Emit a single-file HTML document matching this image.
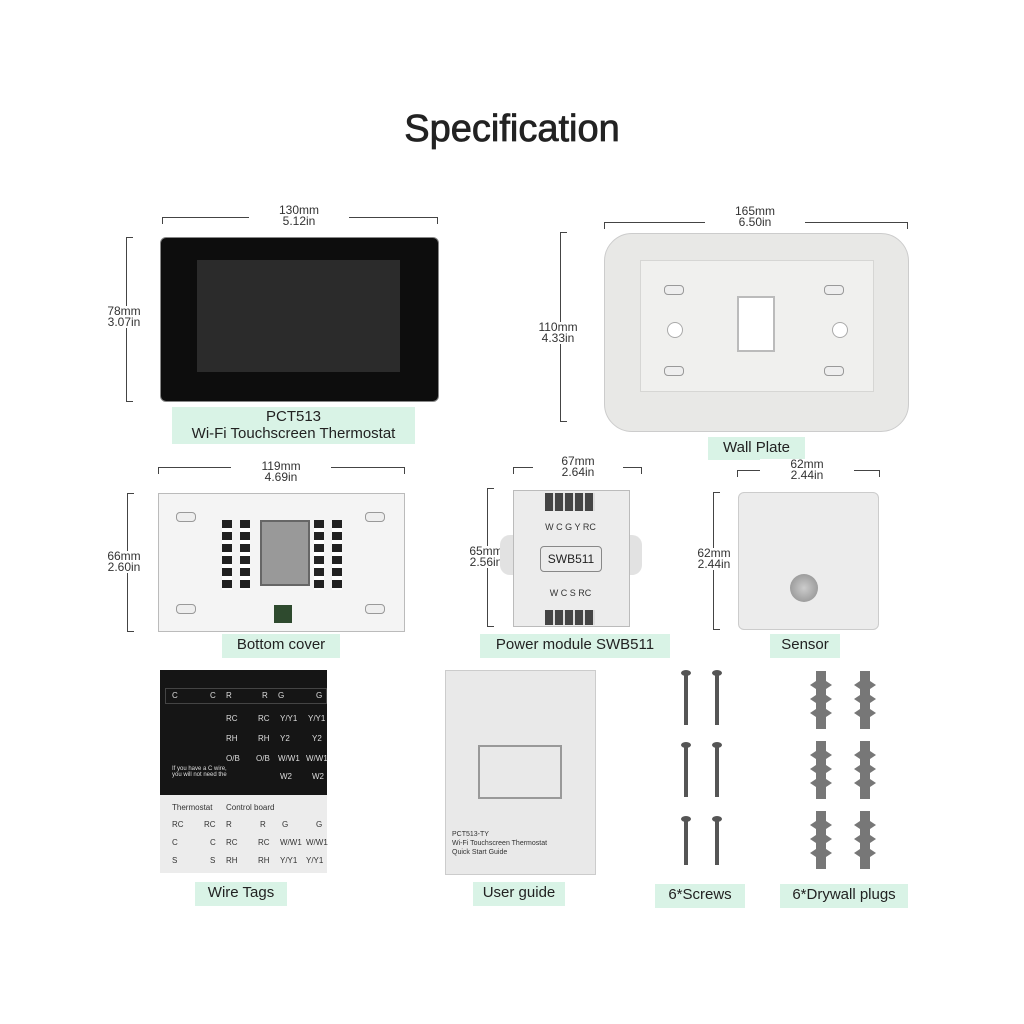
<!DOCTYPE html>
<html><head><meta charset="utf-8"><style>
body{margin:0;width:1024px;height:1024px;background:#fff;position:relative;overflow:hidden;font-family:"Liberation Sans",sans-serif;color:#222}
.a{position:absolute}
.t{position:absolute;font-size:12px;line-height:11px;text-align:center;color:#333}
.lab{position:absolute;background:#d9f3e6;font-size:15px;text-align:center;color:#222;line-height:22px}
.h{position:absolute;border-top:1px solid #444;height:6px;border-left:1px solid #444;border-right:1px solid #444}
.v{position:absolute;border-left:1px solid #444;width:6px;border-top:1px solid #444;border-bottom:1px solid #444}
.sl{position:absolute;width:18px;height:8px;border:1px solid #999;border-radius:4px;background:#eee}
.wt{position:absolute;font-size:8px;color:#ddd}
.wd{position:absolute;font-size:8px;color:#333}
</style></head><body>
<div class="a" style="left:0;top:108px;width:1024px;text-align:center;font-size:38px;color:#222;-webkit-text-stroke:0.8px #222">Specification</div>

<!-- thermostat -->
<div class="h" style="left:162px;top:217px;width:274px"></div>
<div class="t" style="left:249px;top:205px;width:100px;background:#fff">130mm<br>5.12in</div>
<div class="v" style="left:126px;top:237px;height:163px"></div>
<div class="t" style="left:100px;top:306px;width:48px;background:#fff">78mm<br>3.07in</div>
<div class="a" style="left:160px;top:237px;width:277px;height:163px;background:#0d0d0d;border-radius:6px;border:1px solid #888"></div>
<div class="a" style="left:197px;top:260px;width:203px;height:112px;background:#2b2b2b"></div>
<div class="lab" style="left:172px;top:407px;width:243px;height:36px;line-height:17px;padding-top:1px">PCT513<br>Wi-Fi Touchscreen Thermostat</div>

<!-- wall plate -->
<div class="h" style="left:604px;top:222px;width:302px"></div>
<div class="t" style="left:705px;top:206px;width:100px;background:#fff">165mm<br>6.50in</div>
<div class="v" style="left:560px;top:232px;height:188px"></div>
<div class="t" style="left:532px;top:322px;width:52px;background:#fff">110mm<br>4.33in</div>
<div class="a" style="left:604px;top:233px;width:303px;height:197px;background:#e8e8e6;border-radius:28px;border:1px solid #ccc"></div>
<div class="a" style="left:640px;top:260px;width:232px;height:130px;background:#f0f0ee;border:1px solid #d6d6d4"></div>
<div class="a" style="left:737px;top:296px;width:34px;height:52px;background:#fff;border:2px solid #bbb"></div>
<div class="a" style="left:667px;top:322px;width:14px;height:14px;border-radius:50%;background:#fff;border:1px solid #aaa"></div>
<div class="a" style="left:832px;top:322px;width:14px;height:14px;border-radius:50%;background:#fff;border:1px solid #aaa"></div>
<div class="sl" style="left:664px;top:285px"></div><div class="sl" style="left:824px;top:285px"></div>
<div class="sl" style="left:664px;top:366px"></div><div class="sl" style="left:824px;top:366px"></div>
<div class="lab" style="left:708px;top:437px;width:97px;height:23px">Wall Plate</div>

<!-- bottom cover -->
<div class="h" style="left:158px;top:467px;width:245px"></div>
<div class="t" style="left:231px;top:461px;width:100px;background:#fff">119mm<br>4.69in</div>
<div class="v" style="left:127px;top:493px;height:137px"></div>
<div class="t" style="left:100px;top:551px;width:48px;background:#fff">66mm<br>2.60in</div>
<div class="a" style="left:158px;top:493px;width:245px;height:137px;background:#f4f4f4;border:1px solid #bbb"></div>
<div class="a" style="left:260px;top:520px;width:46px;height:62px;background:#999;border:2px solid #666"></div>
<div class="a" style="left:222px;top:520px;width:10px;height:70px;background:repeating-linear-gradient(#222 0 8px,#fff 8px 12px)"></div>
<div class="a" style="left:240px;top:520px;width:10px;height:70px;background:repeating-linear-gradient(#222 0 8px,#fff 8px 12px)"></div>
<div class="a" style="left:314px;top:520px;width:10px;height:70px;background:repeating-linear-gradient(#222 0 8px,#fff 8px 12px)"></div>
<div class="a" style="left:332px;top:520px;width:10px;height:70px;background:repeating-linear-gradient(#222 0 8px,#fff 8px 12px)"></div>
<div class="a" style="left:274px;top:605px;width:18px;height:18px;background:#2e4a2e"></div>
<div class="sl" style="left:176px;top:512px"></div><div class="sl" style="left:365px;top:512px"></div>
<div class="sl" style="left:176px;top:604px"></div><div class="sl" style="left:365px;top:604px"></div>
<div class="lab" style="left:222px;top:634px;width:118px;height:24px">Bottom cover</div>

<!-- power module -->
<div class="h" style="left:513px;top:467px;width:127px"></div>
<div class="t" style="left:533px;top:456px;width:90px;background:#fff">67mm<br>2.64in</div>
<div class="v" style="left:487px;top:488px;height:137px"></div>
<div class="t" style="left:462px;top:546px;width:48px;background:#fff">65mm<br>2.56in</div>
<div class="a" style="left:500px;top:535px;width:142px;height:40px;background:#e2e2e2;border-radius:10px"></div>
<div class="a" style="left:513px;top:490px;width:115px;height:135px;background:#ececec;border:1px solid #bbb"></div>
<div class="a" style="left:545px;top:493px;width:50px;height:18px;background:repeating-linear-gradient(90deg,#444 0 8px,#ddd 8px 10px)"></div>
<div class="a" style="left:545px;top:610px;width:50px;height:15px;background:repeating-linear-gradient(90deg,#444 0 8px,#ddd 8px 10px)"></div>
<div class="t" style="left:513px;top:522px;width:115px;font-size:9px">W C G Y RC</div>
<div class="a" style="left:540px;top:546px;width:60px;height:24px;border:1px solid #888;border-radius:4px;font-size:12px;text-align:center;line-height:24px">SWB511</div>
<div class="t" style="left:513px;top:588px;width:115px;font-size:9px">W C S RC</div>
<div class="lab" style="left:480px;top:634px;width:190px;height:24px">Power module SWB511</div>

<!-- sensor -->
<div class="h" style="left:737px;top:470px;width:141px"></div>
<div class="t" style="left:760px;top:459px;width:94px;background:#fff">62mm<br>2.44in</div>
<div class="v" style="left:713px;top:492px;height:136px"></div>
<div class="t" style="left:690px;top:548px;width:48px;background:#fff">62mm<br>2.44in</div>
<div class="a" style="left:738px;top:492px;width:139px;height:136px;background:#ececec;border-radius:6px;border:1px solid #ccc"></div>
<div class="a" style="left:790px;top:574px;width:28px;height:28px;border-radius:50%;background:radial-gradient(#ccc,#8a8a8a)"></div>
<div class="lab" style="left:770px;top:634px;width:70px;height:24px">Sensor</div>

<!-- wire tags -->
<div class="a" style="left:160px;top:670px;width:167px;height:125px;background:#151515"></div>
<div class="a" style="left:160px;top:795px;width:167px;height:78px;background:#ececec"></div>
<div class="a" style="left:165px;top:688px;width:160px;height:14px;border:1px solid #444"></div>
<div class="wt" style="left:172px;top:691px">C</div><div class="wt" style="left:210px;top:691px">C</div><div class="wt" style="left:226px;top:691px">R</div><div class="wt" style="left:262px;top:691px">R</div><div class="wt" style="left:278px;top:691px">G</div><div class="wt" style="left:316px;top:691px">G</div>
<div class="wt" style="left:226px;top:714px">RC</div><div class="wt" style="left:258px;top:714px">RC</div><div class="wt" style="left:280px;top:714px">Y/Y1</div><div class="wt" style="left:308px;top:714px">Y/Y1</div>
<div class="wt" style="left:226px;top:734px">RH</div><div class="wt" style="left:258px;top:734px">RH</div><div class="wt" style="left:280px;top:734px">Y2</div><div class="wt" style="left:312px;top:734px">Y2</div>
<div class="wt" style="left:226px;top:754px">O/B</div><div class="wt" style="left:256px;top:754px">O/B</div><div class="wt" style="left:278px;top:754px">W/W1</div><div class="wt" style="left:306px;top:754px">W/W1</div>
<div class="wt" style="left:280px;top:772px">W2</div><div class="wt" style="left:312px;top:772px">W2</div>
<div class="wt" style="left:172px;top:766px;font-size:6px">If you have a C wire,<br>you will not need the</div>
<div class="wd" style="left:172px;top:803px">Thermostat</div><div class="wd" style="left:226px;top:803px">Control board</div>
<div class="wd" style="left:172px;top:820px">RC</div><div class="wd" style="left:204px;top:820px">RC</div><div class="wd" style="left:226px;top:820px">R</div><div class="wd" style="left:260px;top:820px">R</div><div class="wd" style="left:282px;top:820px">G</div><div class="wd" style="left:316px;top:820px">G</div>
<div class="wd" style="left:172px;top:838px">C</div><div class="wd" style="left:210px;top:838px">C</div><div class="wd" style="left:226px;top:838px">RC</div><div class="wd" style="left:258px;top:838px">RC</div><div class="wd" style="left:280px;top:838px">W/W1</div><div class="wd" style="left:306px;top:838px">W/W1</div>
<div class="wd" style="left:172px;top:856px">S</div><div class="wd" style="left:210px;top:856px">S</div><div class="wd" style="left:226px;top:856px">RH</div><div class="wd" style="left:258px;top:856px">RH</div><div class="wd" style="left:280px;top:856px">Y/Y1</div><div class="wd" style="left:306px;top:856px">Y/Y1</div>
<div class="lab" style="left:195px;top:882px;width:92px;height:24px">Wire Tags</div>

<!-- user guide -->
<div class="a" style="left:445px;top:670px;width:149px;height:203px;background:#e9e9e9;border:1px solid #ccc"></div>
<div class="a" style="left:478px;top:745px;width:80px;height:50px;border:2px solid #999"></div>
<div class="a" style="left:452px;top:830px;font-size:7px;color:#333;line-height:9px">PCT513-TY<br>Wi-Fi Touchscreen Thermostat<br>Quick Start Guide</div>
<div class="lab" style="left:473px;top:882px;width:92px;height:24px">User guide</div>

<!-- screws -->
<svg class="a" style="left:670px;top:665px" width="70" height="200">
<g fill="#555"><g id="s"><rect x="14" y="8" width="4" height="52"/><ellipse cx="16" cy="8" rx="5" ry="3"/></g>
<use href="#s" x="31"/><use href="#s" y="72"/><use href="#s" x="31" y="72"/><use href="#s" y="146"/><use href="#s" x="31" y="146"/></g></svg>
<div class="lab" style="left:655px;top:884px;width:90px;height:24px">6*Screws</div>

<!-- plugs -->
<svg class="a" style="left:800px;top:665px" width="90" height="210">
<g fill="#777"><g id="p"><rect x="16" y="6" width="10" height="58"/><path d="M10 20l6-4v8zM10 34l6-4v8zM10 48l6-4v8zM32 20l-6-4v8zM32 34l-6-4v8zM32 48l-6-4v8z"/></g>
<use href="#p" x="44"/><use href="#p" y="70"/><use href="#p" x="44" y="70"/><use href="#p" y="140"/><use href="#p" x="44" y="140"/></g></svg>
<div class="lab" style="left:780px;top:884px;width:128px;height:24px">6*Drywall plugs</div>
</body></html>
